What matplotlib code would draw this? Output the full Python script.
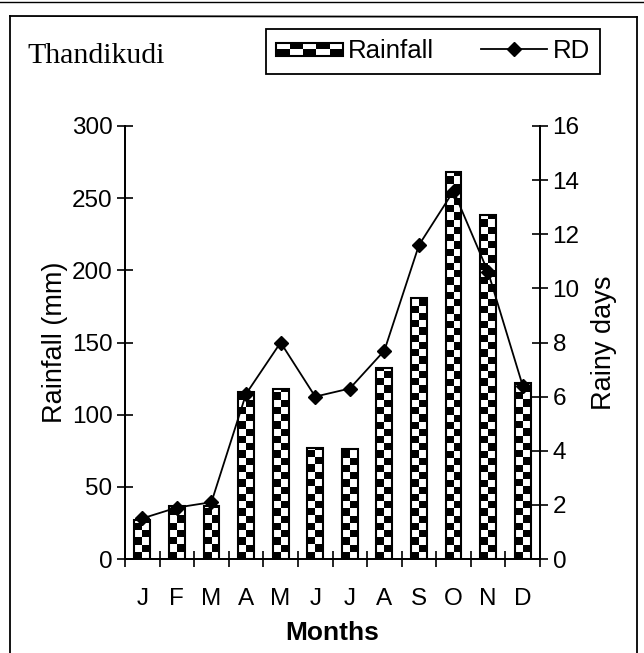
import numpy as np
import matplotlib
matplotlib.use("Agg")
import matplotlib.pyplot as plt
from matplotlib.patches import Rectangle
from matplotlib.legend_handler import HandlerBase
from matplotlib.lines import Line2D

months = ["J", "F", "M", "A", "M", "J", "J", "A", "S", "O", "N", "D"]
rainfall = [27, 37, 37, 116, 118, 77, 76, 132, 181, 268, 238, 122]
rainy_days = [1.5, 1.9, 2.1, 6.1, 8.0, 6.0, 6.3, 7.7, 11.6, 13.6, 10.6, 6.4]

plt.rcParams['font.family'] = ['Liberation Sans', 'DejaVu Sans']

W, H = 644, 653
fig = plt.figure(figsize=(W / 100, H / 100), dpi=100)
ax = fig.add_axes([125 / W, 1 - 559 / H, (540 - 125) / W, (559 - 126) / H])
ax2 = ax.twinx()

x = np.arange(len(months))
bars = ax.bar(x, rainfall, width=0.46, color="white", edgecolor="black",
              linewidth=1.3, zorder=2)

# checkerboard fill for each bar
sq = 5.0
for b in bars:
    bx, bw, bh = b.get_x(), b.get_width(), b.get_height()
    n = int(np.ceil(bh / sq))
    pat = np.indices((n, 2)).sum(axis=0) % 2
    im = ax.imshow(pat, cmap="gray", vmin=0, vmax=1, aspect="auto",
                   extent=[bx, bx + bw, 0, n * sq], origin="lower",
                   interpolation="nearest", zorder=2.5)
    im.set_clip_path(b)
ax.set_xlim(-0.5, len(months) - 0.5)
ax.set_ylim(0, 300)
for b in bars:
    r = Rectangle((b.get_x(), 0), b.get_width(), b.get_height(), fill=False,
                  edgecolor="black", linewidth=1.5, zorder=3)
    ax.add_patch(r)

ax2.plot(x, rainy_days, color="black", linewidth=1.3, marker="D",
         markersize=7, zorder=4)
ax2.set_ylim(0, 16)
ax2.set_yticks(np.arange(0, 17, 2))

ax.set_yticks(np.arange(0, 301, 50))
ax.set_xticks(np.arange(-0.5, len(months), 1.0))
ax.set_xticklabels([])
ax.set_xticks(x, minor=True)
ax.set_xticklabels(months, minor=True)
ax.tick_params(axis="x", which="minor", length=0, pad=21, labelsize=17.5)
ax.tick_params(axis="x", which="major", direction="inout", length=11, width=1.2)
ax.tick_params(axis="y", direction="inout", length=12, width=1.2, labelsize=17.5, pad=3)
ax2.tick_params(axis="y", direction="inout", length=12, width=1.2, labelsize=17.5, pad=3)

for a in (ax, ax2):
    a.spines["top"].set_visible(False)
    for s in a.spines.values():
        s.set_linewidth(1.3)
ax.set_zorder(ax2.get_zorder() - 1)
ax2.patch.set_visible(False)

ax.set_ylabel("Rainfall (mm)", fontsize=19.5, labelpad=3)
ax2.set_ylabel("Rainy days", fontsize=19.5, labelpad=8)
ax.set_xlabel("Months", fontsize=19, fontweight="bold", labelpad=8)

fig.text(27 / W, 1 - 63 / H, "Thandikudi", family="Liberation Serif",
         fontsize=21.5, va="baseline", ha="left")


class CheckerHandler(HandlerBase):
    def create_artists(self, legend, orig_handle, xdescent, ydescent, width,
                       height, fontsize, trans):
        arts = []
        ncol, nrow = 5, 2
        hh = height * 0.75
        y0 = -ydescent + (height - hh) / 2
        cw, ch = width / ncol, hh / nrow
        for i in range(ncol):
            for j in range(nrow):
                c = "black" if (i + j) % 2 == 0 else "white"
                arts.append(Rectangle((-xdescent + i * cw, y0 + j * ch), cw, ch,
                                      facecolor=c, edgecolor="none", transform=trans))
        arts.append(Rectangle((-xdescent, y0), width, hh, fill=False,
                              edgecolor="black", linewidth=1.5, transform=trans))
        return arts


rain_handle = Rectangle((0, 0), 1, 1)
rd_handle = Line2D([], [], color="black", linewidth=1.3, marker="D", markersize=7)
leg = fig.legend([rain_handle, rd_handle], ["Rainfall", "RD"],
                 handler_map={Rectangle: CheckerHandler()},
                 loc="upper right", bbox_to_anchor=(600 / W, 1 - 29 / H),
                 borderaxespad=0,
                 ncol=2, fancybox=False, edgecolor="black", framealpha=1,
                 fontsize=18.5, handlelength=2.6, handletextpad=0.2,
                 columnspacing=1.8, borderpad=0.4)
leg.get_frame().set_linewidth(1.3)

# outer frame
lk = dict(color="black", linewidth=1.3, transform=fig.transFigure)
fig.add_artist(Line2D([10 / W, 637 / W], [1 - 16 / H, 1 - 17 / H], **lk))
fig.add_artist(Line2D([10 / W, 10 / W], [1 - 16 / H, 0], **lk))
fig.add_artist(Line2D([637 / W, 637 / W], [1 - 17 / H, 0], **lk))
fig.add_artist(Line2D([0, 1], [1 - 2 / H, 1 - 2 / H], color="black",
                      linewidth=1.0, transform=fig.transFigure))

fig.savefig("out.png", dpi=100)
